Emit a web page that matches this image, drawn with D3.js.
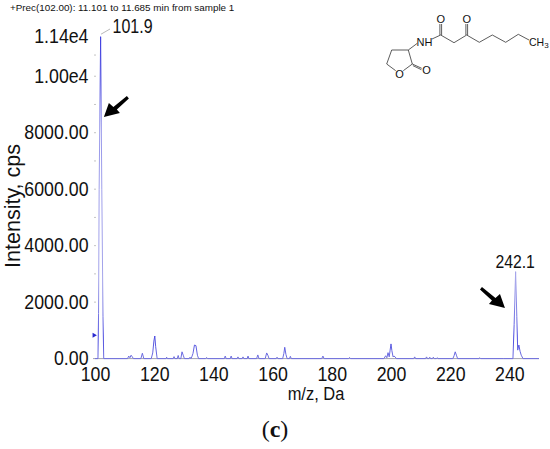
<!DOCTYPE html>
<html><head><meta charset="utf-8">
<script src="https://cdn.jsdelivr.net/npm/d3@7"></script>
<style>html,body{margin:0;background:#fff}svg{display:block}text{font-family:"Liberation Sans",Arial,sans-serif;fill:#111}</style>
</head><body><svg id="c" width="550" height="449"></svg>
<script>
// Spectrum profile: m/z and intensity (cps)
const mzValues = [100,101.0,101.2,101.4,101.9,102.3,102.7,102.95,
 111,111.4,111.8,112.2,112.6,113,115.5,116,116.5,119,119.5,119.9,120.2,120.5,121,
 124,124.2,124.4,126.4,126.7,127,127.8,128.1,128.4,129,129.4,129.8,130.2,
 131.8,132.1,132.4,132.7,133.1,133.6,134.1,134.6,135,137.4,137.7,138,
 143.7,144,144.3,145.7,146,146.3,148,148.3,148.6,149.7,150,150.3,151.4,151.7,152,
 154.6,155,155.4,157.5,158,158.4,158.8,161.2,161.5,161.8,163.4,163.8,164.1,164.5,164.9,165.7,166,166.3,
 176.6,177,177.4,185.7,186,186.3,
 197.6,198.2,198.6,199,199.4,199.7,200,200.3,200.7,201,201.4,201.8,
 207.7,208,208.3,211.7,212,212.3,212.8,213.1,213.4,214,214.3,214.6,215.3,215.6,215.9,229.7,230,230.3,
 220.9,221.3,221.7,222.1,222.5];
const intensityValues = [0,0,1600,6000,11400,6000,1500,0,
 0,90,30,120,60,0,0,190,0,0,200,620,800,420,0,
 0,50,0,0,70,0,0,110,0,0,240,120,0,
 0,50,0,60,180,480,460,120,0,0,40,0,
 0,90,0,0,90,0,0,60,0,0,60,0,0,90,0,
 0,130,0,0,200,120,0,0,50,0,0,180,400,150,0,0,80,0,
 0,90,0,0,40,0,
 0,100,30,210,60,300,520,280,60,90,60,0,
 0,60,0,0,60,0,0,50,0,0,50,0,0,30,0,0,30,0,
 0,100,240,120,0];
const tailMz = [238,241.2,241.6,242.1,242.5,242.8,243.2,243.6,244,244.6,250];
const tailIntensity = [0,0,1200,3080,1500,300,480,260,120,0,0];
const yTickValues = [0,2000,4000,6000,8000,10000,11400];
const yTickLabels = ["0.00","2000.00","4000.00","6000.00","8000.00","1.00e4","1.14e4"];
const yDotTicks = [2000,3000,4000,5000,6000,7000,8000,9000,10000,10750];
const xTickValues = [100,120,140,160,180,200,220,240];
const titleText = "+Prec(102.00): 11.101 to 11.685 min from sample 1";
const peakLabelTexts = ["101.9","242.1"];

const svg = d3.select("#c");
const x = d3.scaleLinear().domain([100,250]).range([95,539]);
const y = d3.scaleLinear().domain([0,11400]).range([358.6,36.7]);
const condense=(sel,f)=>sel.each(function(){const n=this.getComputedTextLength();
  d3.select(this).attr("textLength",n*f).attr("lengthAdjust","spacingAndGlyphs");});

// Spectrum: sort all profile points by m/z
const pts = mzValues.map((m,i)=>[m,intensityValues[i]]).sort((a,b)=>a[0]-b[0]).concat(tailMz.map((m,i)=>[m,tailIntensity[i]]));
const grad = svg.append("defs").append("linearGradient").attr("id","g").attr("gradientUnits","userSpaceOnUse")
  .attr("x1",0).attr("x2",0).attr("y1",y(11400)).attr("y2",y(0));
[[0,"#4040e0"],[.14,"#5a5ae2"],[.3,"#9a9aea"],[.75,"#a4a4ea"],[.85,"#8080e4"],[.93,"#4a4ae0"],[1,"#7070e0"]]
  .forEach(s=>grad.append("stop").attr("offset",s[0]).attr("stop-color",s[1]));

// x axis (under the spectrum)
const xg = svg.append("g").attr("transform",`translate(0,${y(0)})`)
  .call(d3.axisBottom(x).tickValues(xTickValues).tickSize(0).tickPadding(9).tickFormat(d3.format("d")));
xg.select(".domain").attr("stroke","#8a8a9a").attr("stroke-width",0.8).attr("d",`M93,0H${x(250)}`);
xg.selectAll("text").style("font-size","19.5px").attr("fill","#111").call(condense,.91);

svg.append("path").datum(pts).attr("fill","none").attr("stroke","url(#g)").attr("stroke-width",1).attr("stroke-linejoin","round")
  .attr("d",d3.line().x(d=>x(d[0])).y(d=>y(d[1])));

// y axis labels and small dotted ticks
const yg = svg.append("g").attr("transform","translate(88.5,0)")
  .call(d3.axisLeft(y).tickValues(yTickValues).tickSize(0).tickPadding(0).tickFormat((d,i)=>yTickLabels[i]));
yg.select(".domain").remove();
yg.selectAll("text").style("font-size","19.5px").attr("fill","#111").call(condense,.91);
svg.selectAll(".ymt").data(yDotTicks).join("line").attr("class","ymt")
  .attr("x1",94).attr("x2",96).attr("y1",d=>y(d)).attr("y2",d=>y(d)).attr("stroke","#c4c4c4").attr("stroke-width",1);

// Blue marker on the axis
svg.append("path").attr("d",d3.symbol().type(d3.symbolTriangle).size(11)).attr("fill","#2a2ad0")
  .attr("transform",`translate(${x(100)-1},${y(830)}) rotate(90)`);

// Titles
svg.append("text").attr("x",10).attr("y",10.5).style("font-size","9.85px").text(titleText);
svg.append("text").attr("x",316).attr("y",400).attr("text-anchor","middle").style("font-size","17.5px").text("m/z, Da").call(condense,.94);
svg.append("text").attr("transform","translate(20,206) rotate(-90)").attr("text-anchor","middle").style("font-size","21.5px").text("Intensity, cps");
const cap = svg.append("text").attr("x",275).attr("y",437).attr("text-anchor","middle").style("font-family","'Liberation Serif',serif").style("font-size","24px");
cap.append("tspan").text("(");cap.append("tspan").style("font-weight","bold").text("c");cap.append("tspan").text(")");

// Peak labels
svg.append("line").attr("x1",x(101.9)+.4).attr("x2",110).attr("y1",y(11400)-2.5).attr("y2",29).attr("stroke","#999").attr("stroke-width",.7);
svg.append("text").attr("x",112.5).attr("y",33).style("font-size","20px").text(peakLabelTexts[0]).call(condense,.8);
svg.append("text").attr("x",x(242.1)-.5).attr("y",268).attr("text-anchor","middle").style("font-size","19px").text(peakLabelTexts[1]).call(condense,.83);

// Arrows (tips given in data coordinates)
const arrowShape="M0,0L5,-14L9.5,-10L23,-21L25,-18.5L13,-7.5L16,-4Z";
svg.append("path").attr("transform",`translate(${x(103)},${y(8556)})`).attr("d",arrowShape).attr("fill","#000");
svg.append("path").attr("transform",`translate(${x(238.5)},${y(1790)}) scale(-1,1)`).attr("d",arrowShape).attr("fill","#000");

// Molecule
const molBonds=[[432,39,440.7,35],[440.7,35,454,42.7],[454,42.7,466.7,35],[466.7,35,479.3,42.3],[479.3,42.3,492.3,35],[492.3,35,505.7,42.3],[505.7,42.3,518.3,34.3],[518.3,34.3,529,40],
 [439.9,24,439.9,35],[441.6,24,441.6,35],[465.9,24,465.9,35],[467.6,24,467.6,35],
 [417.3,43.3,408.3,50],[408.3,50,391.7,50],[391.7,50,386.7,64],[386.7,64,395.7,70.7],[403.3,70.7,412.3,64],[412.3,64,408.3,50],
 [412.3,64,421.7,68.3],[412.9,65.6,421.4,69.7]];
const molAtoms=[["O",440.7,23],["O",466.7,23],["NH",424.5,46],["O",399.5,78],["O",426.5,74]];
svg.append("g").attr("stroke","#333").attr("stroke-width",.8).selectAll("line").data(molBonds).join("line")
  .attr("x1",d=>d[0]).attr("y1",d=>d[1]).attr("x2",d=>d[2]).attr("y2",d=>d[3]);
svg.selectAll(".at").data(molAtoms).join("text").attr("class","at").attr("x",d=>d[1]).attr("y",d=>d[2]).attr("text-anchor","middle").style("font-size","11px").text(d=>d[0]);
const ch3=svg.append("text").attr("x",529).attr("y",46).style("font-size","10.5px");
ch3.append("tspan").text("CH");ch3.append("tspan").attr("dy",1.5).style("font-size","8px").text("3");
</script></body></html>
